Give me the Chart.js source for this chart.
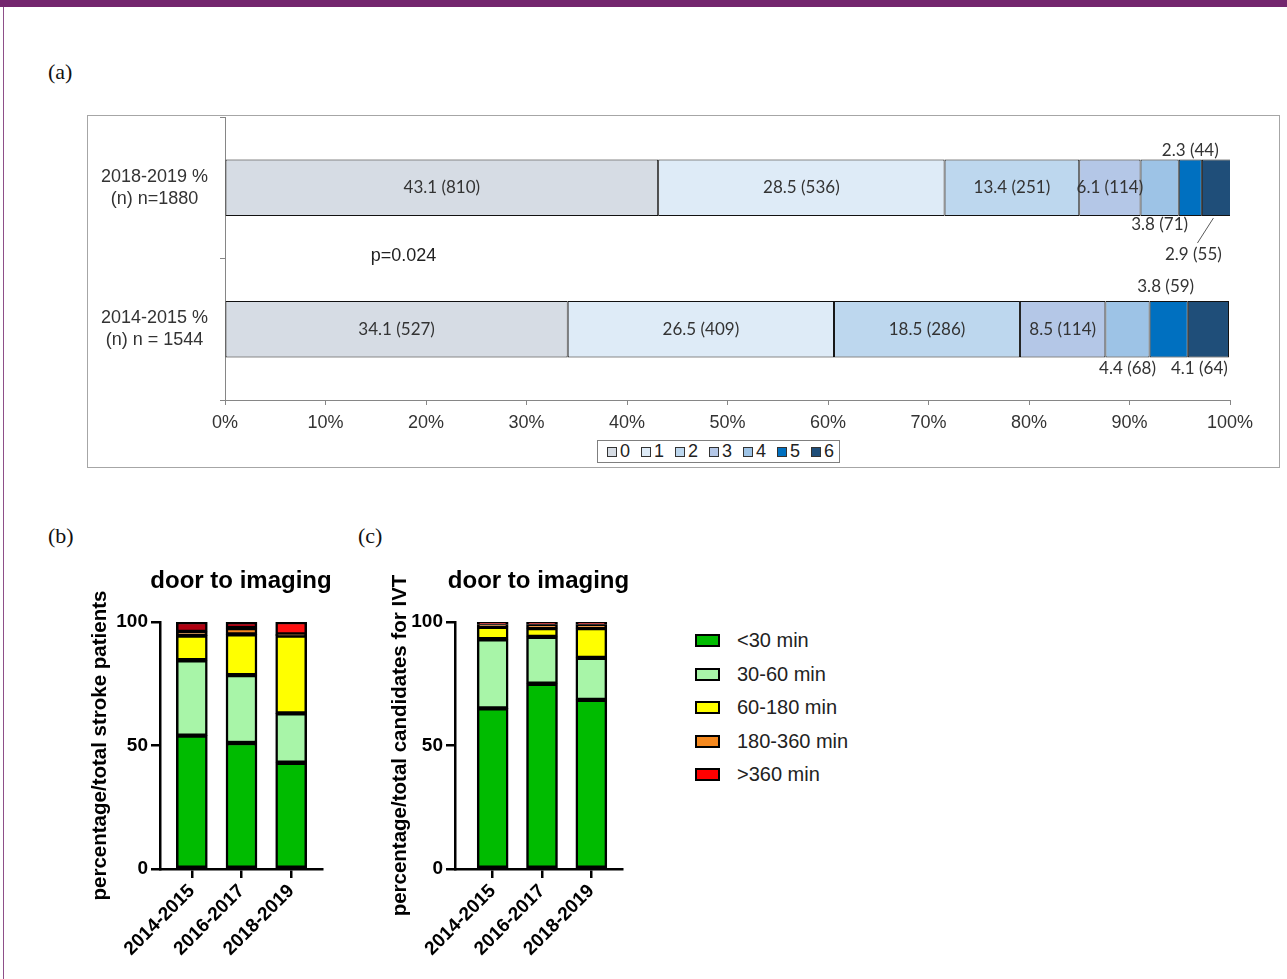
<!DOCTYPE html>
<html>
<head>
<meta charset="utf-8">
<title>Functional outcome and door-to-imaging time</title>
<script src="https://cdn.jsdelivr.net/npm/chart.js@4.4.1/dist/chart.umd.min.js"></script>
<style>
  html, body { margin: 0; padding: 0; background: #fff; }
  body { width: 1287px; height: 979px; position: relative; overflow: hidden;
         font-family: 'Liberation Sans', Arial, sans-serif; }
  .topbar { position: absolute; left: 0; top: 0; width: 1287px; height: 7px; background: #74266e; }
  .sideline { position: absolute; left: 3px; top: 7px; width: 1px; height: 972px; background: #8e4f89; }
  .tag { position: absolute; font-family: 'Liberation Serif', 'Times New Roman', serif;
         font-size: 22px; color: #111; line-height: 1; }
  #boxA { position: absolute; left: 87px; top: 115px; width: 1193px; height: 353px;
          box-sizing: border-box; border: 1px solid #a6a6a6; }
  #boxA canvas { position: absolute; left: 0; top: 0; }
  #legendA { position: absolute; left: 597px; top: 440px; height: 23px; box-sizing: border-box;
             border: 1px solid #7f7f7f; background: #fff; display: flex; align-items: center;
             padding: 0 5px 0 9px; font-size: 18px; color: #222; }
  #legendA .item { display: flex; align-items: center; margin-right: 11px; }
  #legendA .item:last-child { margin-right: 0; }
  #legendA .sw { width: 10px; height: 10px; box-sizing: border-box; border: 1.5px solid #333; margin-right: 3px; }
  .chartBox { position: absolute; }
  #legendBC { position: absolute; left: 695px; top: 624px; }
  #legendBC .row { display: flex; align-items: center; height: 33.5px; font-size: 20px; color: #222; }
  #legendBC .sw { width: 25px; height: 13px; box-sizing: border-box; border: 2.5px solid #000; margin-right: 17px; }
</style>
</head>
<body>
<div class="topbar"></div>
<div class="sideline"></div>

<div class="tag" style="left:48px; top:61px;">(a)</div>
<div class="tag" style="left:48px; top:525px;">(b)</div>
<div class="tag" style="left:358px; top:525px;">(c)</div>

<div id="boxA"><canvas id="chartA" width="1191" height="351"></canvas></div>
<div id="legendA"></div>

<canvas id="chartB" class="chartBox" width="300" height="429" style="left:40px; top:550px;"></canvas>
<canvas id="chartC" class="chartBox" width="300" height="429" style="left:340px; top:550px;"></canvas>
<div id="legendBC"></div>

<script>
// ---- Panel (a): modified Rankin score distribution per period ----
const periodLabels = [['2018-2019 %', '(n) n=1880'], ['2014-2015 %', '(n) n = 1544']];
const mrsScores = ['0', '1', '2', '3', '4', '5', '6'];
const pct2018to2019 = [43.1, 28.5, 13.4, 6.1, 3.8, 2.3, 2.9];
const n2018to2019 = [810, 536, 251, 114, 71, 44, 55];
const pct2014to2015 = [34.1, 26.5, 18.5, 8.5, 4.4, 3.8, 4.1];
const n2014to2015 = [527, 409, 286, 114, 68, 59, 64];
const pValueText = 'p=0.024';

// ---- Panels (b) and (c): door-to-imaging time bands per period ----
const yearGroups = ['2014-2015', '2016-2017', '2018-2019'];
const timeBands = ['<30 min', '30-60 min', '60-180 min', '180-360 min', '>360 min'];
const panelTitle = 'door to imaging';
const strokeUnder30 = [54, 51, 43];
const stroke30to60 = [30.5, 27.5, 20];
const stroke60to180 = [10, 16.5, 31.5];
const stroke180to360 = [1.5, 2.5, 0.5];
const strokeOver360 = [4, 2.5, 5];
const ivtUnder30 = [65, 75, 68.5];
const ivt30to60 = [28, 19, 17];
const ivt60to180 = [5, 3.5, 12];
const ivt180to360 = [1, 1.5, 1.5];
const ivtOver360 = [1, 1, 1];

// ---- styling ----
const mrsColors = ['#d6dce4', '#deebf7', '#bdd7ee', '#b4c7e7', '#9dc3e6', '#0070c0', '#1f4e79'];
const bandColors = ['#00bb00', '#a8f5a8', '#ffff00', '#f5891f', '#ff0000'];
const sans = "'Liberation Sans', Arial, sans-serif";
const labelFont = "17px Lato, 'Open Sans', sans-serif";

// where the small segments put their value labels (outside the bar)
const outsideLabels = [
  { 4: { side: 'below', dy: 8 }, 5: { side: 'above', dy: -9 }, 6: { side: 'below', dx: -23, dy: 38, leader: true } },
  { 4: { side: 'below', dy: 11 }, 5: { side: 'above', dy: -14, dx: -3 }, 6: { side: 'below', dx: -9, dy: 11 } }
];

const segmentLabels = {
  id: 'segmentLabels',
  afterDatasetsDraw(chart) {
    const ctx = chart.ctx;
    ctx.save();
    ctx.font = labelFont;
    ctx.fillStyle = '#333';
    ctx.textAlign = 'center';
    ctx.textBaseline = 'middle';
    chart.data.datasets.forEach((ds, di) => {
      chart.getDatasetMeta(di).data.forEach((bar, pi) => {
        const text = ds.data[pi].toFixed(1) + ' (' + ds.counts[pi] + ')';
        const cx = (bar.x + bar.base) / 2;
        const top = bar.y - bar.height / 2;
        const bottom = bar.y + bar.height / 2;
        const place = outsideLabels[pi][di];
        let x = cx, y = bar.y;
        if (place) {
          x = cx + (place.dx || 0);
          y = (place.side === 'above' ? top : bottom) + place.dy;
          if (place.leader) {
            ctx.beginPath();
            ctx.strokeStyle = '#595959';
            ctx.lineWidth = 1;
            ctx.moveTo(cx - 3, bottom + 2);
            ctx.lineTo(x + 4, y - 11);
            ctx.stroke();
          }
        }
        ctx.fillText(text, x, y);
      });
    });
    const xs = chart.scales.x, ys = chart.scales.y;
    ctx.textAlign = 'left';
    ctx.font = '18px ' + sans;
    ctx.fillStyle = '#222';
    ctx.fillText(pValueText, xs.getPixelForValue(14.5), (ys.getPixelForValue(0) + ys.getPixelForValue(1)) / 2 - 2);
    ctx.restore();
  }
};

new Chart(document.getElementById('chartA'), {
  type: 'bar',
  data: {
    labels: periodLabels,
    datasets: mrsScores.map((s, i) => ({
      label: s,
      data: [pct2018to2019[i], pct2014to2015[i]],
      counts: [n2018to2019[i], n2014to2015[i]],
      backgroundColor: mrsColors[i],
      borderColor: '#111',
      borderWidth: 1,
      borderSkipped: false,
      barPercentage: 0.5,
      categoryPercentage: 0.8
    }))
  },
  options: {
    indexAxis: 'y',
    responsive: false,
    animation: false,
    layout: { padding: { top: 1, right: 49, left: 0, bottom: 0 } },
    plugins: { legend: { display: false }, tooltip: { enabled: false } },
    scales: {
      x: {
        stacked: true, min: 0, max: 100,
        ticks: { stepSize: 10, callback: v => v + '%', color: '#333', font: { family: sans, size: 18 }, padding: 7, maxRotation: 0 },
        grid: { drawOnChartArea: false, drawTicks: true, tickLength: 5, color: '#868686' },
        border: { color: '#868686', width: 1 },
        afterFit: s => { s.height = 67; }
      },
      y: {
        stacked: true,
        ticks: { crossAlign: 'center', color: '#333', font: { family: sans, size: 18, lineHeight: 1.22 }, padding: 12 },
        grid: { drawOnChartArea: false, tickLength: 5, color: '#868686', offset: true },
        border: { color: '#868686', width: 1 },
        afterFit: s => { s.width = 137; s.paddingTop = 0; s.paddingBottom = 0; }
      }
    }
  },
  plugins: [segmentLabels]
});

// legend for panel (a)
const legendA = document.getElementById('legendA');
mrsScores.forEach((s, i) => {
  const item = document.createElement('div');
  item.className = 'item';
  const sw = document.createElement('div');
  sw.className = 'sw';
  sw.style.background = mrsColors[i];
  item.appendChild(sw);
  item.appendChild(document.createTextNode(s));
  legendA.appendChild(item);
});

// ---- door-to-imaging stacked bars ----
// category axis that leaves an empty gap at each end of the axis line
class GappedCategoryScale extends Chart.CategoryScale {
  configure() {
    super.configure();
    const gap = this.options.edgeGap;
    if (gap) {
      this._startPixel += gap[0];
      this._endPixel -= gap[1];
      this._length = this._endPixel - this._startPixel;
    }
  }
}
GappedCategoryScale.id = 'gappedCategory';
GappedCategoryScale.defaults = Chart.CategoryScale.defaults;
Chart.register(GappedCategoryScale);

// title centred over the plot area
const centeredTitle = {
  id: 'centeredTitle',
  afterDraw(chart, args, opts) {
    const { ctx, chartArea } = chart;
    ctx.save();
    ctx.font = 'bold 24px ' + sans;
    ctx.fillStyle = '#000';
    ctx.textAlign = 'center';
    ctx.textBaseline = 'middle';
    ctx.fillText(opts.text, (chartArea.left + chartArea.right) / 2, opts.y);
    ctx.restore();
  }
};

function doorChart(id, yTitle, series, axisWidth, edgeGap, topColors) {
  return new Chart(document.getElementById(id), {
    type: 'bar',
    data: {
      labels: yearGroups,
      datasets: series.map((d, i) => ({
        label: timeBands[i],
        data: d,
        backgroundColor: (i === series.length - 1 && topColors) ? topColors : bandColors[i],
        borderColor: '#000',
        borderWidth: 2.5,
        borderSkipped: false,
        barThickness: 31
      }))
    },
    options: {
      responsive: false,
      animation: false,
      layout: { padding: { top: 72, right: 18 } },
      plugins: {
        legend: { display: false },
        tooltip: { enabled: false },
        centeredTitle: { text: panelTitle, y: 31 }
      },
      scales: {
        x: {
          type: 'gappedCategory', edgeGap: edgeGap, stacked: true, offset: true,
          grid: { offset: false, drawOnChartArea: false, tickLength: 9, lineWidth: 2.5, color: '#000' },
          border: { color: '#000', width: 2.5 },
          ticks: { autoSkip: false, minRotation: 45, maxRotation: 45,
                   color: '#000', font: { family: sans, size: 19, weight: 'bold' }, padding: 2 },
          afterFit: s => { s.height = 110; }
        },
        y: {
          stacked: true, min: 0, max: 100,
          ticks: { stepSize: 50, color: '#000', font: { family: sans, size: 19, weight: 'bold' }, padding: 3 },
          grid: { drawOnChartArea: false, tickLength: 9, lineWidth: 2.5, color: '#000' },
          border: { color: '#000', width: 2.5 },
          title: { display: true, text: yTitle, color: '#000', font: { family: sans, size: 20.5, weight: 'bold' }, padding: { top: 47.7, bottom: 0 } },
          afterFit: s => { s.width = axisWidth; s.paddingTop = 0; }
        }
      }
    },
    plugins: [centeredTitle]
  });
}

doorChart('chartB', 'percentage/total stroke patients',
  [strokeUnder30, stroke30to60, stroke60to180, stroke180to360, strokeOver360], 120,
  [7, 6], ['#b00010', '#b00010', '#ff1010']);
doorChart('chartC', 'percentage/total candidates for IVT',
  [ivtUnder30, ivt30to60, ivt60to180, ivt180to360, ivtOver360], 115,
  [13, 6], null);

// shared legend for panels (b) and (c)
const legendBC = document.getElementById('legendBC');
timeBands.forEach((t, i) => {
  const row = document.createElement('div');
  row.className = 'row';
  const sw = document.createElement('div');
  sw.className = 'sw';
  sw.style.background = bandColors[i];
  row.appendChild(sw);
  row.appendChild(document.createTextNode(t));
  legendBC.appendChild(row);
});
</script>
</body>
</html>
